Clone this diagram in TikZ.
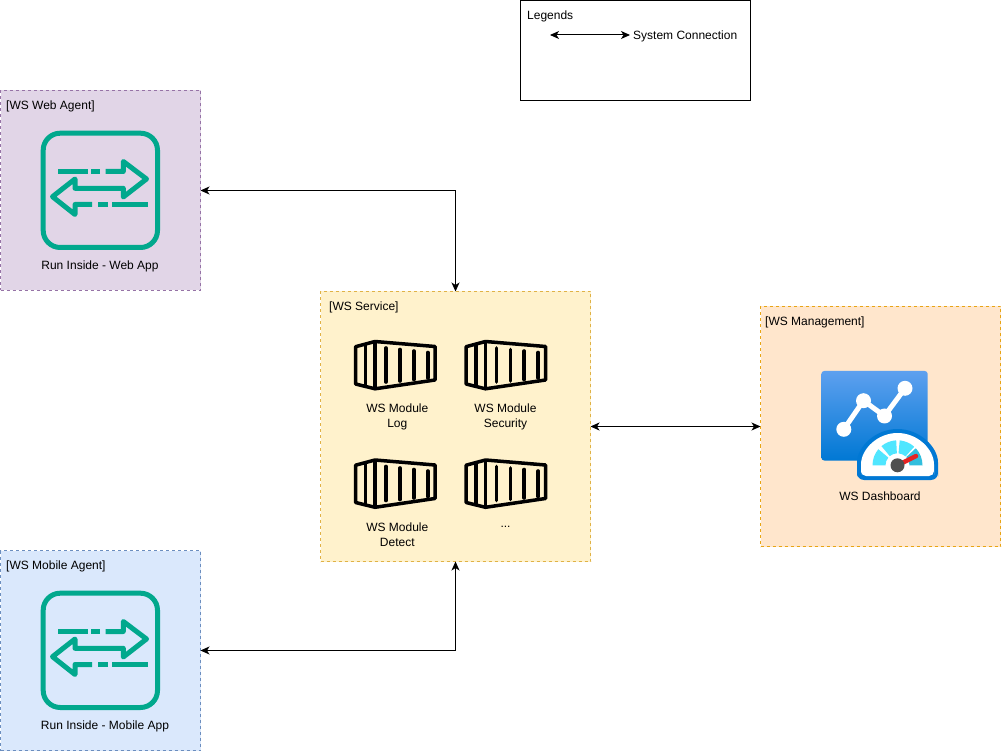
\documentclass[tikz,border=0pt]{standalone}
\usepackage{fontspec}
\setmainfont{Liberation Sans}
\usetikzlibrary{arrows.meta}
\definecolor{flowgreen}{HTML}{01A88D}
\definecolor{linkblue}{HTML}{0078D4}
\definecolor{gaugelight}{HTML}{50E6FF}
\definecolor{gaugedark}{HTML}{32BEDD}
\definecolor{needlered}{HTML}{E62323}
\definecolor{hubgrey}{HTML}{505050}
\definecolor{dashtop}{HTML}{5EA0EF}
\tikzset{
  zone/.style={draw=#1,dash pattern=on 3pt off 3pt,line width=.8pt,anchor=north west,inner sep=0pt,outer sep=0pt},
  lbl/.style={font=\fontsize{12}{15}\selectfont,inner sep=0pt,text=black,align=center},
  link/.style={line width=1pt,{Stealth[length=9pt,width=8pt,inset=2.5pt]}-{Stealth[length=9pt,width=8pt,inset=2.5pt]}},
  flowline/.style={draw=flowgreen,line width=5pt,line join=round},
  flowdash/.style={draw=flowgreen,line width=5pt,line cap=butt},
  crate/.style={draw=black,line width=3.5pt,line join=round},
  slat/.style={draw=black,line width=3.6pt,line cap=round}
}
\newcommand{\flowicon}[1]{%
  \begin{scope}[shift={(0,#1)}]
    \draw[draw=flowgreen,line width=5pt,rounded corners=17pt] (43.2,133.2) rectangle (157.5,247.5);
    \draw[flowdash] (58,171.5) -- (87.7,171.5);
    \draw[flowdash] (91,171.5) -- (100,171.5);
    \draw[flowline,line cap=butt] (105.7,171.5) -- (123.3,171.5) -- (123.3,161.5) -- (146.5,179) -- (123.3,197) -- (123.3,188.3) -- (75,188.3) -- (75,179) -- (52.5,196.7) -- (75,214.5) -- (75,204.5) -- (92,204.5);
    \draw[flowdash] (98.3,204.5) -- (108,204.5);
    \draw[flowdash] (112.3,204.5) -- (148,204.5);
  \end{scope}}
\newcommand{\crateicon}[2]{%
  \begin{scope}[shift={(#1,#2)}]
    \draw[crate] (355.6,346.7) -- (375,341.5) -- (435,346.5) -- (435,380) -- (375,388.8) -- (355.6,384) -- cycle;
    \draw[crate] (365.7,344.5) -- (365.7,386.2);
    \draw[crate] (375,341.5) -- (375,388.8);
    \draw[slat] (386,348) -- (386,382);
    \draw[slat] (400,349.5) -- (400,381);
    \draw[slat] (413.7,351) -- (413.7,379.5);
    \draw[slat] (427.7,352.5) -- (427.7,378);
  \end{scope}}
\newcommand{\gaugeseg}[3]{\fill[#1] (#2:12) arc[start angle=#2,end angle=#3,radius=12] -- (#3:25) arc[start angle=#3,end angle=#2,radius=25] -- cycle;}
\begin{document}
\begin{tikzpicture}[x=1pt,y=-1pt]
\useasboundingbox (0,0) rectangle (1002,751);
\fill[white] (0,0) rectangle (1002,751);
% zones
\node[zone=black,solid,line width=1pt,minimum width=230pt,minimum height=100pt] (legend) at (520.5,0.5) {};
\node[zone=violet,draw={rgb,255:red,150;green,115;blue,166},fill={rgb,255:red,225;green,213;blue,231},minimum width=200pt,minimum height=200pt] (web) at (0.5,90.5) {};
\node[zone=blue,draw={rgb,255:red,108;green,142;blue,191},fill={rgb,255:red,218;green,232;blue,252},minimum width=200pt,minimum height=200pt] (mobile) at (0.5,550.5) {};
\node[zone=yellow,draw={rgb,255:red,224;green,178;blue,70},fill={rgb,255:red,255;green,242;blue,204},minimum width=270pt,minimum height=270pt] (service) at (320.5,291.5) {};
\node[zone=orange,draw={rgb,255:red,232;green,165;blue,20},fill={rgb,255:red,255;green,230;blue,204},minimum width=240pt,minimum height=240pt] (mgmt) at (760.5,306.5) {};
% icons
\flowicon{0}
\flowicon{460}
\crateicon{0}{0}
\crateicon{110.5}{0}
\crateicon{0}{118.5}
\crateicon{110.5}{118.5}
% dashboard
\shade[top color=dashtop,bottom color=linkblue,rounded corners=3pt] (821.3,371) rectangle (927.7,460.5);
\draw[white,line width=5pt,line join=round] (843.8,429.3) -- (863.5,400.7) -- (884.5,416) -- (905,388.3);
\fill[white] (843.8,429.3) circle[radius=7.5];
\fill[white] (863.5,400.7) circle[radius=7.5];
\fill[white] (884.5,416) circle[radius=7.5];
\fill[white] (905,388.3) circle[radius=7.5];
\begin{scope}[shift={(897.5,465.3)},x=1pt,y=1pt]
  \fill[linkblue,rounded corners=7pt] (-40.5,-14.7) -- (-40.5,-4.2) arc[start angle=180,end angle=0,radius=40.5] -- (40.5,-14.7) -- cycle;
  \fill[white,rounded corners=5pt] (-36.5,-10.7) -- (-36.5,-4.2) arc[start angle=180,end angle=0,radius=36.5] -- (36.5,-10.7) -- cycle;
  \gaugeseg{gaugelight}{180}{140}
  \gaugeseg{gaugelight}{130}{93}
  \gaugeseg{gaugelight}{85}{48}
  \gaugeseg{gaugedark}{43}{0}
  \draw[needlered,line width=4.5pt,line cap=round] (0,0) -- (18.5,9.2);
  \fill[hubgrey] (0,0) circle[radius=7];
\end{scope}
% labels
\node[lbl,anchor=west] (webt) at (6,106) {[WS Web Agent]};
\node[lbl,anchor=west] (mobt) at (6,566) {[WS Mobile Agent]};
\node[lbl,anchor=west] (svct) at (329,307) {[WS Service]};
\node[lbl,anchor=west] (mgmtt) at (765,322) {[WS Management]};
\node[lbl,anchor=west] (legt) at (527,16) {Legends};
\node[lbl,anchor=west] (legc) at (633,36) {System Connection};
\coordinate (legs) at (550,35);
\coordinate (lege) at (630,35);
\node[lbl] (webl) at (100,266) {Run Inside - Web App};
\node[lbl] (mobl) at (105,726) {Run Inside - Mobile App};
\node[lbl] (m1) at (397.3,416.5) {WS Module\\Log};
\node[lbl] (m2) at (505.5,416.5) {WS Module\\Security};
\node[lbl] (m3) at (397.3,535) {WS Module\\Detect};
\node[lbl] (m4) at (505.5,527) {...};
\node[lbl] (dash) at (880,496.5) {WS Dashboard};
% connectors
\draw[link] (legs) -- (lege);
\draw[link] (web.east) -| (service.north);
\draw[link] (mobile.east) -| (service.south);
\draw[link] (service.east) -- (mgmt.west);
\end{tikzpicture}
\end{document}
